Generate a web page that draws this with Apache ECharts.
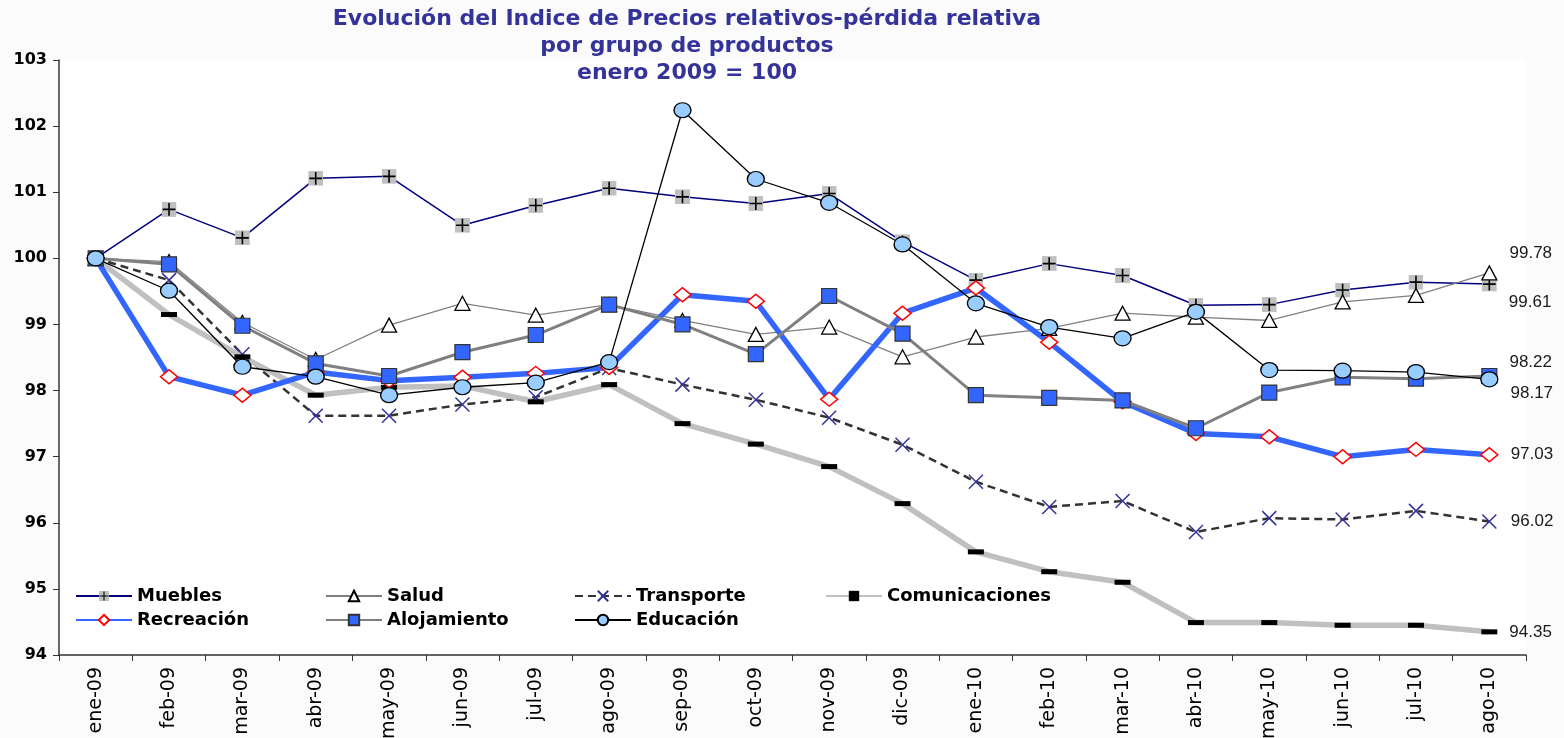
<!DOCTYPE html>
<html>
<head>
<meta charset="utf-8">
<script src="https://cdn.jsdelivr.net/npm/echarts@6/dist/echarts.min.js"></script>
<style>
html,body{margin:0;padding:0;background:#fbfbfb;}
#chart{width:1564px;height:738px;}
</style>
</head>
<body>
<div id="chart"></div>
<script>
var categories = ['ene-09','feb-09','mar-09','abr-09','may-09','jun-09','jul-09','ago-09','sep-09','oct-09','nov-09','dic-09','ene-10','feb-10','mar-10','abr-10','may-10','jun-10','jul-10','ago-10'];
var muebles        = [100, 100.74, 100.31, 101.21, 101.24, 100.50, 100.80, 101.06, 100.93, 100.83, 100.98, 100.25, 99.67, 99.92, 99.74, 99.29, 99.30, 99.52, 99.64, 99.61];
var salud          = [100, 99.95, 99.03, 98.47, 98.99, 99.32, 99.14, 99.30, 99.06, 98.85, 98.96, 98.51, 98.81, 98.94, 99.17, 99.11, 99.06, 99.34, 99.44, 99.78];
var transporte     = [100, 99.67, 98.55, 97.62, 97.62, 97.79, 97.90, 98.34, 98.09, 97.86, 97.59, 97.18, 96.62, 96.24, 96.33, 95.86, 96.07, 96.05, 96.18, 96.02];
var comunicaciones = [100, 99.15, 98.51, 97.93, 98.05, 98.07, 97.83, 98.09, 97.50, 97.19, 96.85, 96.29, 95.56, 95.26, 95.10, 94.49, 94.49, 94.45, 94.45, 94.35];
var recreacion     = [100, 98.21, 97.93, 98.28, 98.15, 98.20, 98.26, 98.35, 99.45, 99.35, 97.87, 99.17, 99.55, 98.73, 97.83, 97.35, 97.30, 97.00, 97.11, 97.03];
var alojamiento    = [100, 99.91, 98.98, 98.41, 98.22, 98.58, 98.84, 99.30, 99.00, 98.55, 99.43, 98.86, 97.93, 97.89, 97.85, 97.43, 97.97, 98.20, 98.18, 98.22];
var educacion      = [100, 99.51, 98.36, 98.21, 97.93, 98.05, 98.12, 98.43, 102.24, 101.20, 100.84, 100.21, 99.32, 98.96, 98.79, 99.19, 98.31, 98.30, 98.28, 98.17];
var yTicks = [94, 95, 96, 97, 98, 99, 100, 101, 102, 103];

var mueblesSvg = '<svg xmlns="http://www.w3.org/2000/svg" width="28" height="28"><rect x="0" y="0" width="28" height="28" fill="#c0c0c0"/><path d="M14 2V26M2 14H26" stroke="#000" stroke-width="3"/></svg>';
var mueblesSymbol = 'image://data:image/svg+xml;charset=utf-8,' + encodeURIComponent(mueblesSvg);

function withEndLabel(arr, offset) {
  var last = arr.length - 1;
  return arr.map(function (v, i) {
    if (i !== last) return v;
    return {
      value: v,
      label: {
        show: true, position: 'right', distance: 12, offset: offset,
        formatter: function (p) { return p.value.toFixed(2); },
        fontFamily: 'Liberation Sans, Arial, sans-serif', fontSize: 17, color: '#1a1a1a'
      }
    };
  });
}

var chart = echarts.init(document.getElementById('chart'), null, {renderer: 'canvas'});

var legendFont = {fontFamily: 'DejaVu Sans, sans-serif', fontSize: 18, fontWeight: 'bold', color: '#000'};
function mkLegend(name, left, top) {
  return {
    data: [name], left: left, top: top, itemWidth: 56, itemHeight: 13, itemGap: 6,
    padding: 0, textStyle: legendFont, selectedMode: false
  };
}

var option = {
  animation: false,
  backgroundColor: '#fbfbfb',
  title: {
    text: 'Evolución del Indice de Precios relativos-pérdida relativa\npor grupo de productos\nenero 2009 = 100',
    left: 682, top: 1, textAlign: 'center',
    textStyle: {fontFamily: 'DejaVu Sans, sans-serif', fontSize: 22, fontWeight: 'bold', color: '#333399', lineHeight: 27}
  },
  legend: [
    mkLegend('Muebles', 75, 587),
    mkLegend('Salud', 325, 587),
    mkLegend('Transporte', 574, 587),
    mkLegend('Comunicaciones', 825, 587),
    mkLegend('Recreación', 75, 611),
    mkLegend('Alojamiento', 325, 611),
    mkLegend('Educación', 574, 611)
  ],
  grid: {left: 59, right: 38, top: 60, bottom: 83, show: true, backgroundColor: '#ffffff', borderWidth: 0, outerBoundsMode: 'none', containLabel: false},
  xAxis: {
    type: 'category', data: categories, boundaryGap: true,
    axisLine: {show: true, lineStyle: {color: '#333', width: 1.5}},
    axisTick: {show: true, length: 6, inside: false, alignWithLabel: false, lineStyle: {color: '#333'}},
    axisLabel: {rotate: 90, margin: 12, fontFamily: 'DejaVu Sans, sans-serif', fontSize: 19, color: '#000', interval: 0},
    splitLine: {show: false}
  },
  yAxis: {
    type: 'value', min: yTicks[0], max: yTicks[yTicks.length - 1], interval: 1,
    axisLine: {show: true, lineStyle: {color: '#333', width: 1.5}},
    axisTick: {show: true, length: 6, lineStyle: {color: '#333'}},
    axisLabel: {margin: 12, fontFamily: 'DejaVu Sans, sans-serif', fontSize: 16, fontWeight: 'bold', color: '#000'},
    splitLine: {show: false}
  },
  series: [
    {
      name: 'Muebles', type: 'line', data: withEndLabel(muebles, [0, 18]),
      symbol: mueblesSymbol, symbolSize: 15,
      lineStyle: {color: '#000080', width: 1.5},
      itemStyle: {color: '#000080'}
    },
    {
      name: 'Salud', type: 'line', data: withEndLabel(salud, [0, -20]),
      symbol: 'triangle', symbolSize: [15, 14],
      lineStyle: {color: '#808080', width: 1.3},
      itemStyle: {color: '#ffffff', borderColor: '#000', borderWidth: 1.3}
    },
    {
      name: 'Transporte', type: 'line', data: withEndLabel(transporte, [0, 0]),
      symbol: 'path://M0,0L10,10M10,0L0,10', symbolSize: 14,
      lineStyle: {color: '#333333', width: 2.5, type: [8, 5]},
      itemStyle: {color: 'none', borderColor: '#333399', borderWidth: 1.5}
    },
    {
      name: 'Comunicaciones', type: 'line', data: withEndLabel(comunicaciones, [0, 0]),
      symbol: 'rect', symbolSize: [16, 5],
      lineStyle: {color: '#c0c0c0', width: 5.5},
      itemStyle: {color: '#000000'}
    },
    {
      name: 'Recreación', type: 'line', data: withEndLabel(recreacion, [0, 0]),
      symbol: 'diamond', symbolSize: [17, 14],
      lineStyle: {color: '#3366ff', width: 5.5},
      itemStyle: {color: '#ffffff', borderColor: '#ff0000', borderWidth: 1.5}
    },
    {
      name: 'Alojamiento', type: 'line', data: withEndLabel(alojamiento, [0, -14]),
      symbol: 'rect', symbolSize: 15,
      lineStyle: {color: '#808080', width: 3},
      itemStyle: {color: '#3366ff', borderColor: '#333333', borderWidth: 1.2}
    },
    {
      name: 'Educación', type: 'line', data: withEndLabel(educacion, [0, 14]),
      symbol: 'circle', symbolSize: [17, 15],
      lineStyle: {color: '#000000', width: 1.3},
      itemStyle: {color: '#99ccff', borderColor: '#000', borderWidth: 1.3}
    }
  ]
};
option.series.forEach(function (s) {
  s.showAllSymbol = true;
  s.emphasis = {disabled: true};
  s.silent = true;
  s.z = 2;
});
chart.setOption(option);
</script>
</body>
</html>
